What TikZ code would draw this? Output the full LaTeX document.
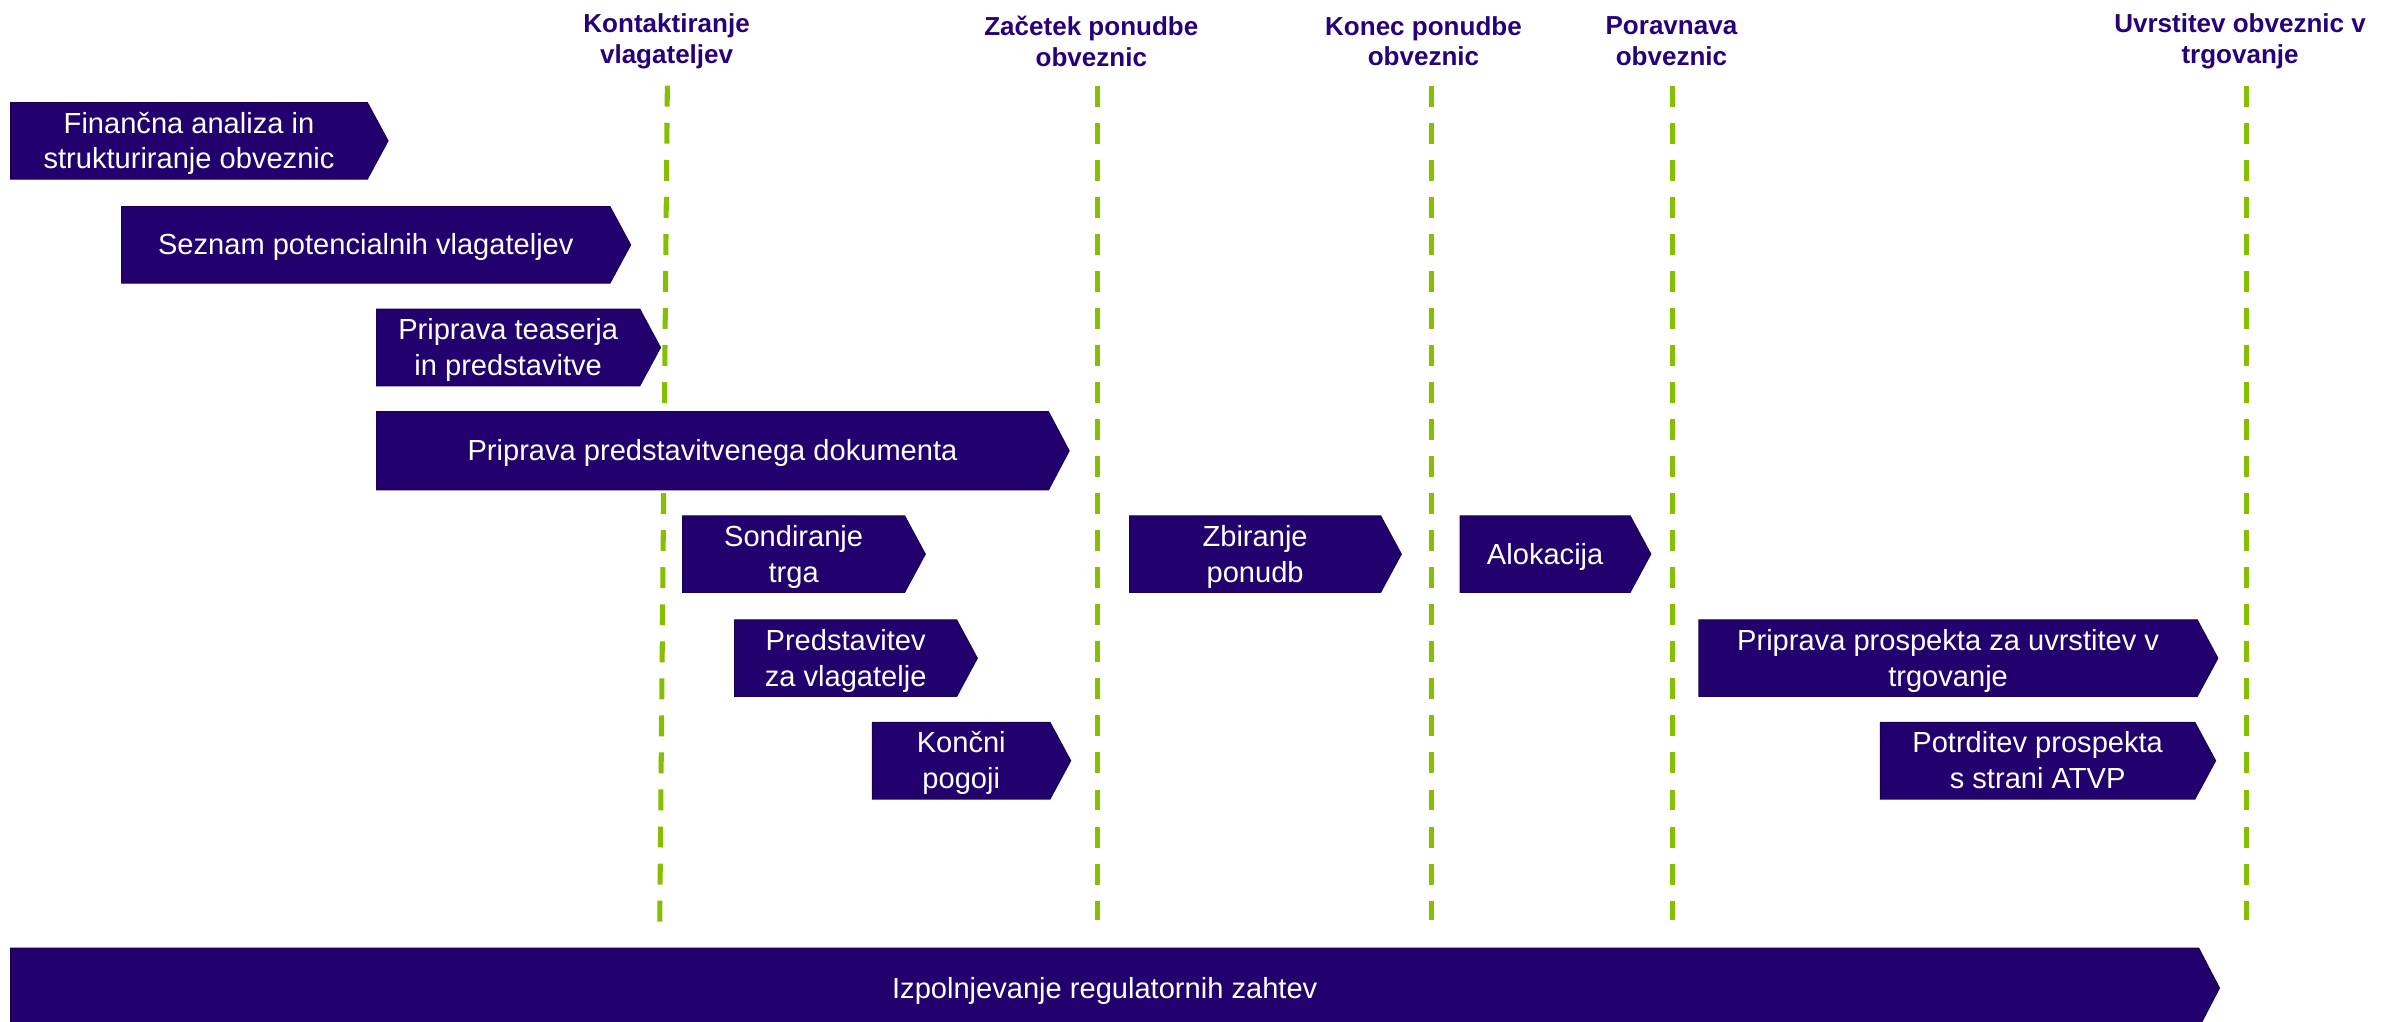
\documentclass[tikz,border=0pt]{standalone}
\usepackage{fontspec}
\setmainfont{Liberation Sans}
\definecolor{boxfill}{HTML}{22006E}
\definecolor{boxedge}{HTML}{1A0052}
\definecolor{titlecol}{HTML}{27007A}
\definecolor{dashgreen}{HTML}{86BF00}
\newcommand{\linestrut}{\vrule width 0pt height 17.2pt depth 4.03pt\relax}
\newcommand{\chevbox}[6]{%
  \filldraw[chev] (#2,#4) -- (#3,#4) -- ({#3+13.5},{(#4+#5)/2}) -- (#3,#5) -- (#2,#5) -- cycle;
  \node[boxtext] (#1) at ({(#2+#3)/2},{(#4+#5)/2}) {\linestrut #6\linestrut};
}
\begin{document}
\begin{tikzpicture}[x=1pt,y=-1pt,
  chev/.style={fill=boxfill, draw=boxedge, line width=0.7pt, line join=miter},
  boxtext/.style={text=white, align=center, inner sep=0pt,
    font=\fontsize{19}{23.3}\selectfont},
  milestone/.style={text=titlecol, align=center, inner sep=0pt, font=\bfseries\fontsize{17}{20}\selectfont},
  msline/.style={draw=dashgreen, line width=3.3pt, dash pattern=on 13.7pt off 10.5pt}]
\useasboundingbox (0,0) rectangle (1568,667.7);
% milestone titles
\node[milestone] (t1) at (435.5,27) {Kontaktiranje\\vlagateljev};
\node[milestone] (t2) at (713,27) {Začetek ponudbe\\obveznic};
\node[milestone] (t3) at (930,27) {Konec ponudbe\\obveznic};
\node[milestone] (t4) at (1092,27) {Poravnava\\obveznic};
\node[milestone] (t5) at (1463.5,27) {Uvrstitev obveznic v\\trgovanje};
% dashed milestone lines
\coordinate (l1a) at (436,56);  \coordinate (l1b) at (431,607);
\coordinate (l2a) at (717,56);  \coordinate (l2b) at (717,601);
\coordinate (l3a) at (935,56);  \coordinate (l3b) at (935,601);
\coordinate (l4a) at (1092.5,56); \coordinate (l4b) at (1092.5,601);
\coordinate (l5a) at (1468,56); \coordinate (l5b) at (1468,601);
\draw[msline] (l1a) -- (l1b);
\draw[msline] (l2a) -- (l2b);
\draw[msline] (l3a) -- (l3b);
\draw[msline] (l4a) -- (l4b);
\draw[msline] (l5a) -- (l5b);
% activity boxes
\chevbox{b1}{7}{240}{67}{117}{Finančna analiza in\\strukturiranje obveznic}
\chevbox{b2}{79.5}{398.5}{135}{185}{Seznam potencialnih vlagateljev}
\chevbox{b3}{246}{418}{202}{252}{Priprava teaserja\\in predstavitve}
\chevbox{b4}{246}{685}{269}{320}{Priprava predstavitvenega dokumenta}
\chevbox{b5}{446}{591}{337}{387}{Sondiranje\\trga}
\chevbox{b6}{738}{902}{337}{387}{Zbiranje\\ponudb}
\chevbox{b7}{954}{1065}{337}{387}{Alokacija}
\chevbox{b8}{480}{625}{405}{455}{Predstavitev\\za vlagatelje}
\chevbox{b9}{1110}{1435.5}{405}{455}{Priprava prospekta za uvrstitev v\\trgovanje}
\chevbox{b10}{570}{686}{472}{522}{Končni\\pogoji}
\chevbox{b11}{1228.5}{1434}{472}{522}{Potrditev prospekta\\s strani ATVP}
\chevbox{b12}{7}{1436.5}{619.5}{671.5}{Izpolnjevanje regulatornih zahtev}
\end{tikzpicture}
\end{document}
